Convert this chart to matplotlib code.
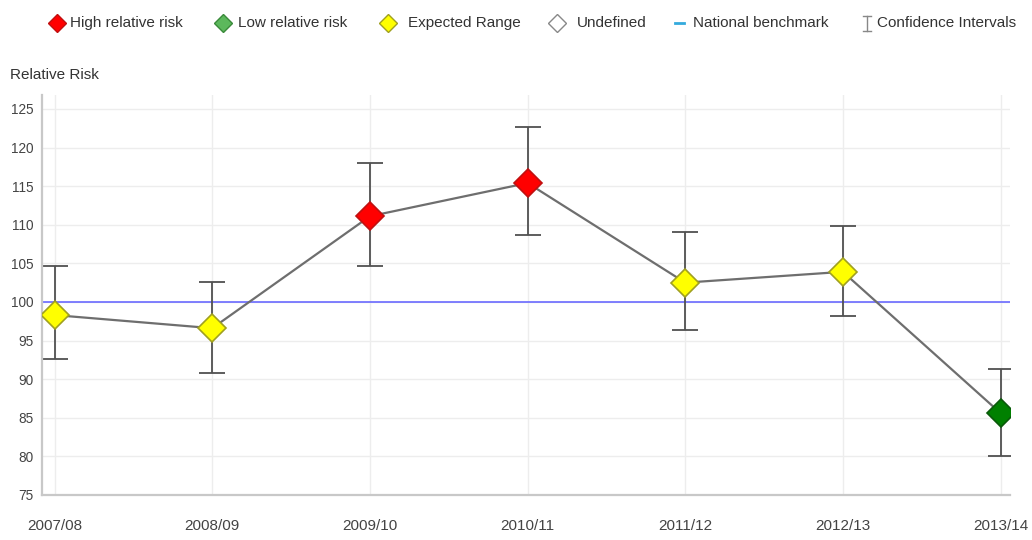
import matplotlib
matplotlib.use("Agg")
import matplotlib.pyplot as plt
from matplotlib.lines import Line2D

plt.rcParams['font.family'] = ['Liberation Sans', 'DejaVu Sans']

years = ["2007/08", "2008/09", "2009/10", "2010/11", "2011/12", "2012/13", "2013/14"]
relative_risk = [98.3, 96.6, 111.1, 115.4, 102.5, 103.9, 85.6]
ci_upper = [104.6, 102.6, 118.0, 122.7, 109.0, 109.8, 91.3]
ci_lower = [92.6, 90.8, 104.7, 108.7, 96.4, 98.2, 80.1]
category = ["expected", "expected", "high", "high", "expected", "expected", "low"]
benchmark = 100
y_ticks = [75, 80, 85, 90, 95, 100, 105, 110, 115, 120, 125]

face = {"high": "#ff0000", "low": "#008000", "expected": "#ffff00", "undefined": "#ffffff"}
edge = {"high": "#c01010", "low": "#0a5a0a", "expected": "#a0a020", "undefined": "#888888"}

W, H = 1032, 540
fig = plt.figure(figsize=(W / 100, H / 100), dpi=100)
ax = fig.add_axes([42 / W, 1 - 495 / H, 968 / W, 400 / H])

x = list(range(len(years)))
ax.plot(x, relative_risk, color="#6e6e6e", lw=1.6, zorder=3)
yerr = [[v - l for v, l in zip(relative_risk, ci_lower)],
        [u - v for v, u in zip(relative_risk, ci_upper)]]
ax.errorbar(x, relative_risk, yerr=yerr, fmt="none", ecolor="#505050",
            elinewidth=1.3, capsize=9.5, capthick=1.3, zorder=2)
ax.axhline(benchmark, color="#6a6aff", lw=1.2, zorder=1.5)
for xi, v, c in zip(x, relative_risk, category):
    ax.plot(xi, v, marker="D", ms=14, mfc=face[c], mec=edge[c], mew=1.2,
            ls="none", zorder=4)

ax.set_xlim(-0.08, 6.06)
ax.set_ylim(75, 126.8)
ax.set_yticks(y_ticks)
ax.set_xticks(x)
ax.set_xticklabels(years)
ax.grid(True, color="#ededed", lw=1.0, zorder=0)
ax.set_axisbelow(True)
for s in ["top", "right"]:
    ax.spines[s].set_visible(False)
for s in ["left", "bottom"]:
    ax.spines[s].set_color("#c8c8c8")
    ax.spines[s].set_linewidth(1.6)
ax.tick_params(axis="both", length=0, colors="#444444")
ax.tick_params(axis="x", pad=17, labelsize=11.0)
ax.tick_params(axis="y", pad=6, labelsize=9.8)

fig.text(10 / W, 1 - 75 / H, "Relative Risk", fontsize=11.0, color="#333333",
         ha="left", va="center")

# Legend drawn manually
ly = 1 - 23 / H
fs = 11.0
items = [
    (57, 70, face["high"], edge["high"], "High relative risk"),
    (223, 238, "#5cb85c", "#3a8a3a", "Low relative risk"),
    (388, 408, face["expected"], edge["expected"], "Expected Range"),
    (557, 577, "#ffffff", "#888888", "Undefined"),
]
for mx, tx, fc, ec, label in items:
    fig.add_artist(Line2D([mx / W], [ly], marker="D", ms=9, mfc=fc, mec=ec,
                          mew=1.0, ls="none", transform=fig.transFigure))
    fig.text(tx / W, ly, label, fontsize=fs, color="#333333", ha="left", va="center")
fig.add_artist(Line2D([675 / W, 684 / W], [ly, ly], color="#33aadd", lw=2,
                      transform=fig.transFigure))
fig.text(693 / W, ly, "National benchmark", fontsize=fs, color="#333333",
         ha="left", va="center")
# I-beam glyph for confidence intervals
ix = 867
for seg in [([ix, ix], [16, 31]), ([ix - 4, ix + 4], [16, 16]), ([ix - 4, ix + 4], [31, 31])]:
    fig.add_artist(Line2D([p / W for p in seg[0]], [1 - p / H for p in seg[1]],
                          color="#888888", lw=1.0, transform=fig.transFigure))
fig.text(877 / W, ly, "Confidence Intervals", fontsize=fs, color="#333333",
         ha="left", va="center")

fig.savefig("out.png", dpi=100)
